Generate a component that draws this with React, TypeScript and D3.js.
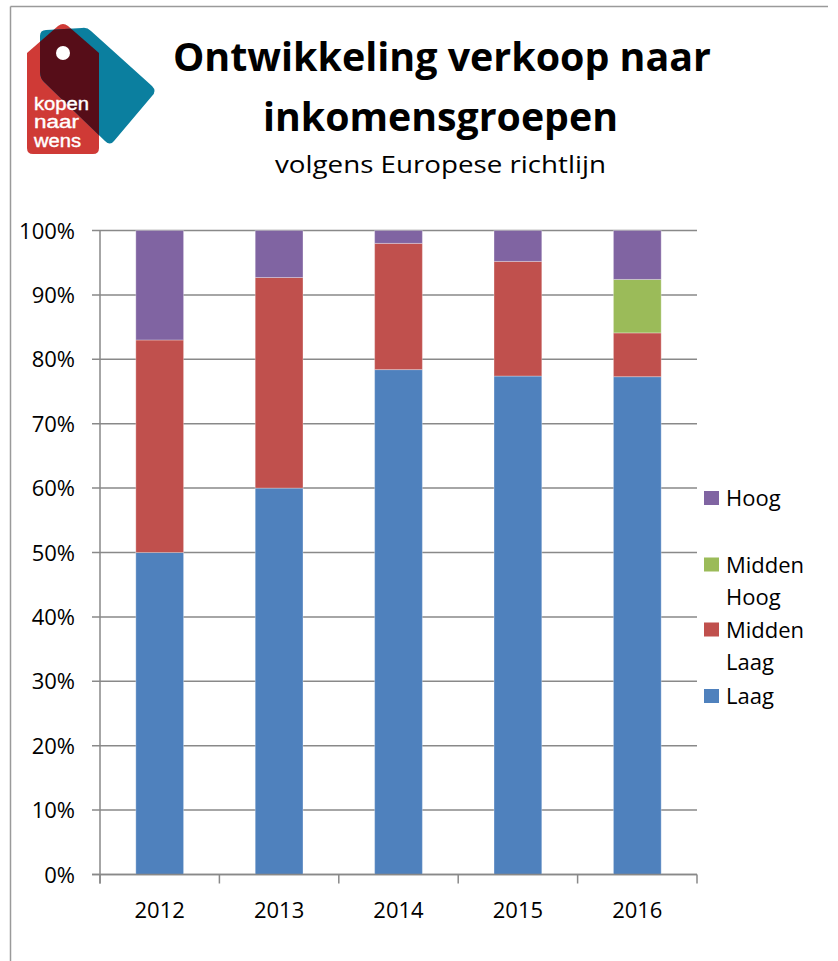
import React from "react";
import * as d3 from "d3";

const years = ["2012", "2013", "2014", "2015", "2016"];
const laag = [50.0, 60.0, 78.4, 77.4, 77.3];
const middenLaag = [33.0, 32.7, 19.6, 17.8, 6.8];
const middenHoog = [0, 0, 0, 0, 8.3];
const hoog = [17.0, 7.3, 2.0, 4.8, 7.6];
const seriesNames = ["Laag", "Midden Laag", "Midden Hoog", "Hoog"];
const seriesColors = ["#4F81BD", "#C0504D", "#9BBB59", "#8064A2"];
const yTicks = [0, 10, 20, 30, 40, 50, 60, 70, 80, 90, 100];
const legendItems = [
  { key: "Hoog", lines: ["Hoog"], color: "#8064A2" },
  { key: "Midden Hoog", lines: ["Midden", "Hoog"], color: "#9BBB59" },
  { key: "Midden Laag", lines: ["Midden", "Laag"], color: "#C0504D" },
  { key: "Laag", lines: ["Laag"], color: "#4F81BD" },
];
const logoLines = ["kopen", "naar", "wens"];

const W = 838;
const H = 961;
const plot = { left: 100, right: 697, top: 230.5, bottom: 874.5 };
const gridColor = "#898989";
const font = "'Open Sans', sans-serif";

export default function App() {
  const x = d3
    .scaleBand<string>()
    .domain(years)
    .range([plot.left, plot.right])
    .paddingInner(0.6)
    .paddingOuter(0.3);
  const y = d3.scaleLinear().domain([0, 100]).range([plot.bottom, plot.top]);

  const table = years.map((yr, i) => ({
    year: yr,
    Laag: laag[i],
    "Midden Laag": middenLaag[i],
    "Midden Hoog": middenHoog[i],
    Hoog: hoog[i],
  }));
  const stack = d3.stack<any>().keys(seriesNames)(table);

  const step = x.step();
  const boundaries = years.map((_, i) => plot.left + i * step).concat([plot.right]);

  const legendBase = [505, 571.5, 636.5, 703];
  const logoWidths = [55, 45, 47];

  const redTag =
    "M27,53 L58,26 Q63,22 68,26 L99,53 L99,148 Q99,154 93,154 L33,154 Q27,154 27,148 Z";
  const blueTag =
    "M40,36 Q40,30 46,30 L82,28 Q87,27 91,31 L152,86 Q157,91 152,96 L114,141 Q110,146 105,141 L44,82 Q40,78 40,72 Z";

  return (
    <svg
      width={W}
      height={H}
      style={{ position: "absolute", left: 0, top: 0, background: "#fff" }}
    >
      <rect x={0} y={0} width={W} height={H} fill="#fff" />
      {/* frame */}
      <line x1={10.5} y1={6.5} x2={828} y2={6.5} stroke="#9a9a9a" strokeWidth={1.5} />
      <line x1={10.5} y1={6.5} x2={10.5} y2={H} stroke="#9a9a9a" strokeWidth={1.5} />

      {/* logo */}
      <defs>
        <clipPath id="redClip">
          <path d={redTag} />
        </clipPath>
      </defs>
      <path d={redTag} fill="#CF3A36" />
      <path d={blueTag} fill="#0B7F9F" />
      <path clipPath="url(#redClip)" d={blueTag} fill="#560D18" />
      <circle cx={63} cy={53} r={7} fill="#fff" />
      <g
        fill="#fff"
        stroke="#fff"
        strokeWidth={0.4}
        fontFamily="'Liberation Sans', Arial, sans-serif"
        fontSize={18}
      >
        {logoLines.map((l, i) => (
          <text
            key={l}
            x={34}
            y={109.5 + i * 18.5}
            textLength={logoWidths[i]}
            lengthAdjust="spacingAndGlyphs"
          >
            {l}
          </text>
        ))}
      </g>

      {/* titles */}
      <text
        x={442}
        y={71}
        textAnchor="middle"
        fontFamily={font}
        fontWeight={700}
        fontSize={40}
        textLength={538}
        lengthAdjust="spacingAndGlyphs"
      >
        Ontwikkeling verkoop naar
      </text>
      <text
        x={440.5}
        y={131}
        textAnchor="middle"
        fontFamily={font}
        fontWeight={700}
        fontSize={40}
        textLength={355}
        lengthAdjust="spacingAndGlyphs"
      >
        inkomensgroepen
      </text>
      <text
        x={440.5}
        y={172.5}
        textAnchor="middle"
        fontFamily={font}
        fontSize={24.5}
        textLength={331}
        lengthAdjust="spacingAndGlyphs"
      >
        volgens Europese richtlijn
      </text>

      {/* gridlines + y ticks */}
      {yTicks.map((t) => (
        <g key={t}>
          <line
            x1={92}
            x2={plot.right}
            y1={y(t)}
            y2={y(t)}
            stroke={gridColor}
            strokeWidth={1.5}
          />
          <text
            x={75}
            y={y(t) + 8}
            textAnchor="end"
            fontFamily={font}
            fontSize={22}
            fill="#000"
          >
            {t}%
          </text>
        </g>
      ))}

      {/* bars */}
      {stack.map((s, si) => (
        <g key={s.key} fill={seriesColors[si]}>
          {s.map((d, i) =>
            d[1] - d[0] > 0 ? (
              <rect
                key={i}
                x={x(years[i])}
                y={y(d[1])}
                width={x.bandwidth()}
                height={y(d[0]) - y(d[1])}
                stroke="rgba(255,255,255,0.3)"
                strokeWidth={1}
              />
            ) : null
          )}
        </g>
      ))}

      {/* axes */}
      <line x1={plot.left} x2={plot.left} y1={plot.top} y2={plot.bottom + 9} stroke={gridColor} strokeWidth={1.5} />
      <line x1={92} x2={plot.right} y1={plot.bottom} y2={plot.bottom} stroke={gridColor} strokeWidth={1.5} />
      {boundaries.map((b, i) => (
        <line key={i} x1={b} x2={b} y1={plot.bottom} y2={plot.bottom + 9} stroke={gridColor} strokeWidth={1.5} />
      ))}
      {years.map((yr) => (
        <text
          key={yr}
          x={(x(yr) as number) + x.bandwidth() / 2}
          y={918}
          textAnchor="middle"
          fontFamily={font}
          fontSize={22}
        >
          {yr}
        </text>
      ))}

      {/* legend */}
      {legendItems.map((it, i) => (
        <g key={it.key}>
          <rect x={704} y={legendBase[i] - 14} width={15} height={14} fill={it.color} />
          {it.lines.map((ln, j) => (
            <text
              key={j}
              x={726}
              y={legendBase[i] + 1 + j * 32.5}
              fontFamily={font}
              fontSize={22}
            >
              {ln}
            </text>
          ))}
        </g>
      ))}
    </svg>
  );
}
